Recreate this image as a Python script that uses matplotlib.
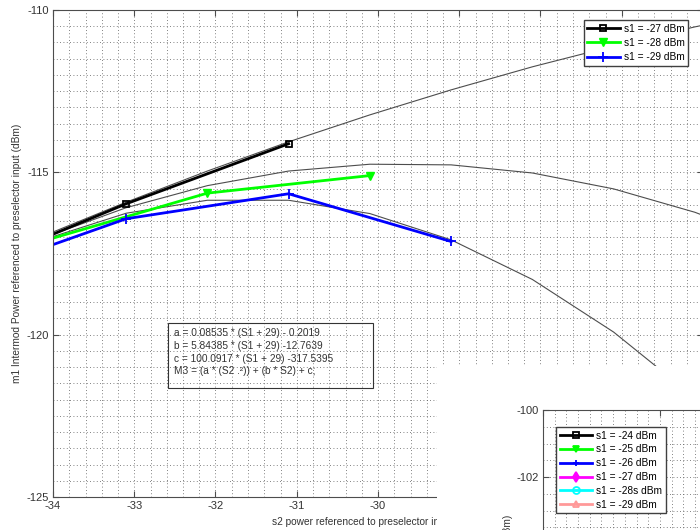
import numpy as np
import matplotlib
matplotlib.use('Agg')
import matplotlib.pyplot as plt
from matplotlib.patches import Rectangle

plt.rcParams['font.family'] = ['Liberation Sans', 'DejaVu Sans']
plt.rcParams['axes.unicode_minus'] = False

# --- data ---
# fitted M3 curves, sampled at the measured s2 steps
s2_fit = [-35.1, -34.1, -33.1, -32.1, -31.1, -30.1, -29.1, -28.1, -27.1, -26.1, -25.1]
m3_fit_27 = [-118.02, -116.94, -115.92, -114.96, -114.06, -113.23, -112.46, -111.75, -111.11, -110.52, -110.00]
m3_fit_28 = [-118.15, -117.00, -116.09, -115.41, -114.96, -114.75, -114.77, -115.02, -115.51, -116.23, -117.18]
m3_fit_29 = [-118.27, -117.06, -116.26, -115.86, -115.86, -116.27, -117.08, -118.30, -119.92, -121.94, -124.37]

# measured intermod power
s2_27 = [-35.1, -33.1, -31.1]
m1_27 = [-118.05, -115.97, -114.12]
s2_28 = [-34.1, -32.1, -30.1]
m1_28 = [-117.10, -115.64, -115.10]
s2_29 = [-35.1, -33.1, -31.1, -29.1]
m1_29 = [-118.20, -116.43, -115.66, -117.13]

legend_main = ['s1 = -27 dBm', 's1 = -28 dBm', 's1 = -29 dBm']
legend_second = ['s1 = -24 dBm', 's1 = -25 dBm', 's1 = -26 dBm',
                 's1 = -27 dBm', 's1 = -28s dBm', 's1 = -29 dBm']

fit_text = ('a = 0.08535 * (S1 + 29) - 0.2019\n'
            'b = 5.84385 * (S1 + 29) -12.7639\n'
            'c = 100.0917 * (S1 + 29) -317.5395\n'
            'M3 = (a * (S2 .\u00b2)) + (b * S2) + c;')

W, H = 700, 530
FS = 7.3  # labels, legends, annotation
fig = plt.figure(figsize=(7, 5.3), dpi=100)

def fig_box(left, top, width, height):
    return [left / W, 1 - (top + height) / H, width / W, height / H]

GRID = dict(which='both', linestyle=(0, (1, 3)), color='0.35', linewidth=0.6)

def style_axes(ax):
    for sp in ax.spines.values():
        sp.set_color('0.3')
        sp.set_linewidth(0.8)
    ax.tick_params(which='major', direction='in', top=True, right=True, length=4,
                   width=0.8, color='0.3', labelsize=8, labelcolor='0.2', pad=3)
    ax.tick_params(which='minor', length=0)
    ax.grid(**GRID)
    ax.set_axisbelow(True)

# --- main plot ---
ax = fig.add_axes(fig_box(53, 10, 650, 487))
ax.plot(s2_fit, m3_fit_27, color='0.3', lw=0.8)
ax.plot(s2_fit, m3_fit_28, color='0.3', lw=0.8)
ax.plot(s2_fit, m3_fit_29, color='0.3', lw=0.8)
h1, = ax.plot(s2_27, m1_27, color='k', lw=2, marker='s', ms=5, mfc='none', mew=1.3)
h2, = ax.plot(s2_28, m1_28, color=(0, 1, 0), lw=2, marker='v', ms=5.5)
h3, = ax.plot(s2_29, m1_29, color=(0, 0, 1), lw=2, marker='+', ms=7, mew=1.3)

ax.set_xlim(-34, -26)
ax.set_ylim(-125, -110)
ax.set_xticks(np.arange(-34, -25, 1))
ax.set_xticks(np.arange(-34, -25.9, 0.2), minor=True)
ax.set_yticks([-125, -120, -115, -110])
ax.set_yticks(np.arange(-125, -109.9, 0.5), minor=True)
style_axes(ax)
ax.set_xlabel('s2 power referenced to preselector input (dBm)', fontsize=FS, color='0.2', labelpad=4)
ax.set_ylabel('m1 Intermod Power referenced to preselector input (dBm)', fontsize=FS, color='0.2')
ax.yaxis.set_label_coords(-31 / 650, 0.5)

ax.legend([h1, h2, h3], legend_main, loc='upper right',
          bbox_to_anchor=(688 / W, 1 - 20 / H), bbox_transform=fig.transFigure,
          borderaxespad=0, fancybox=False, edgecolor='0.25', framealpha=1,
          fontsize=FS, handlelength=3.2, handletextpad=0.4, labelspacing=0.42, borderpad=0.35)

# fit equations box
ax.add_patch(Rectangle((168 / W, 1 - 388 / H), 205 / W, 65 / H, transform=fig.transFigure,
                       fill=False, edgecolor='0.2', lw=0.8, clip_on=False))
ax.text(174 / W, 1 - 328 / H, fit_text, transform=fig.transFigure, fontsize=FS,
        color='0.2', va='top', ha='left', linespacing=1.35)

# --- overlapping second window ---
cover = fig.add_axes(fig_box(437, 366, 263, 164), zorder=2)
cover.set_facecolor('white')
cover.set_xticks([])
cover.set_yticks([])
for sp in cover.spines.values():
    sp.set_visible(False)

ax2 = fig.add_axes(fig_box(543, 410, 234, 469), zorder=3)
ax2.set_xlim(-35, -25)
ax2.set_ylim(-114, -100)
ax2.set_xticks([-35, -30, -25])
ax2.set_xticks(np.arange(-35, -24.9, 0.5), minor=True)
ax2.set_yticks(np.arange(-114, -99, 2))
ax2.set_yticks(np.arange(-114, -99.9, 0.5), minor=True)
style_axes(ax2)
ax2.set_ylabel('m1 Intermod Power referenced to preselector input (dBm)', fontsize=FS, color='0.2')
ax2.yaxis.set_label_coords(-30 / 234, 0.5)

second_styles = [
    dict(color='k', marker='s', mfc='none'),
    dict(color=(0, 1, 0), marker='v'),
    dict(color=(0, 0, 1), marker='+'),
    dict(color=(1, 0, 1), marker='d'),
    dict(color=(0, 1, 1), marker='o', mfc='none'),
    dict(color=(1, 0.6, 0.6), marker='^', mfc='none'),
]
handles2 = []
for st in second_styles:
    h, = ax2.plot([], [], lw=2, ms=5, mew=1.3, **st)
    handles2.append(h)
ax2.legend(handles2, legend_second, loc='upper left',
           bbox_to_anchor=(556 / W, 1 - 427 / H), bbox_transform=fig.transFigure,
           borderaxespad=0, fancybox=False, edgecolor='0.25', framealpha=1,
           fontsize=FS, handlelength=3.2, handletextpad=0.4, labelspacing=0.38, borderpad=0.35)

fig.savefig('out.png', dpi=100)
